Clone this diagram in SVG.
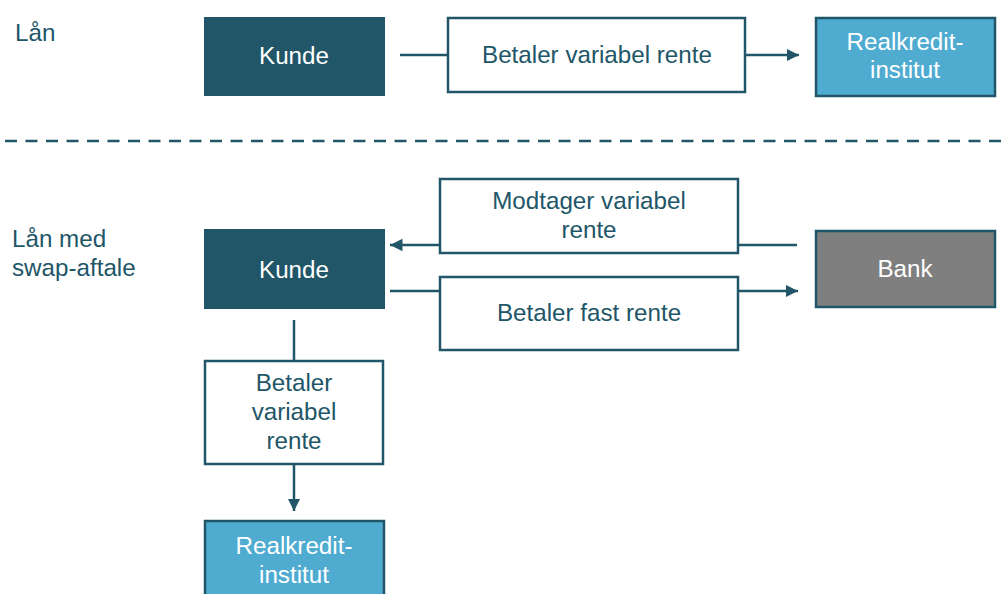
<svg xmlns="http://www.w3.org/2000/svg" width="1001" height="594" viewBox="0 0 1001 594">
<defs>
<style>
text{font-family:"Liberation Sans",Arial,sans-serif;font-size:24.2px;text-anchor:middle}
.lbl{fill:#215668;text-anchor:start}
.dark{fill:#215668;stroke:#215668;stroke-width:1}
.blue{fill:#4FABD0;stroke:#215668;stroke-width:2.5}
.gray{fill:#7F7F7F;stroke:#215668;stroke-width:2.5}
.flow{fill:#fff;stroke:#215668;stroke-width:2.5}
.wt{fill:#fff}
.tt{fill:#215668}
.conn{stroke:#215668;stroke-width:2.5;fill:none}
</style>
<marker id="ah" viewBox="0 0 10 10" refX="10" refY="5" markerWidth="5" markerHeight="5" markerUnits="strokeWidth" orient="auto">
<path d="M0,0 L10,5 L0,10 z" fill="#215668"/>
</marker>
</defs>
<rect width="1001" height="594" fill="#fff"/>
<text class="lbl" x="15" y="41">Lån</text>
<text class="lbl" x="12" y="247">Lån med</text>
<text class="lbl" x="12" y="276">swap-aftale</text>
<line x1="5" y1="141" x2="1001" y2="141" stroke="#215668" stroke-width="2.5" stroke-dasharray="12,8.5"/>
<g id="connectors">
<line class="conn" x1="400" y1="55" x2="448" y2="55"/>
<line class="conn" x1="745" y1="55" x2="799" y2="55" marker-end="url(#ah)"/>
<line class="conn" x1="440" y1="245" x2="390" y2="245" marker-end="url(#ah)"/>
<line class="conn" x1="797" y1="245" x2="738" y2="245"/>
<line class="conn" x1="390" y1="291" x2="440" y2="291"/>
<line class="conn" x1="738" y1="291" x2="798" y2="291" marker-end="url(#ah)"/>
<line class="conn" x1="294" y1="320" x2="294" y2="361"/>
<line class="conn" x1="294" y1="464" x2="294" y2="511" marker-end="url(#ah)"/>
</g>
<g id="kunde1"><rect class="dark" x="204.5" y="17.5" width="180" height="78"/><text class="wt" x="294" y="64">Kunde</text></g>
<g id="betaler-variabel-1"><rect class="flow" x="448" y="18" width="297" height="74"/><text class="tt" x="597" y="63">Betaler variabel rente</text></g>
<g id="realkredit1"><rect class="blue" x="816" y="18" width="179" height="78"/><text class="wt" x="905" y="50">Realkredit-</text><text class="wt" x="905" y="78">institut</text></g>
<g id="kunde2"><rect class="dark" x="204.5" y="229.5" width="180" height="79"/><text class="wt" x="294" y="278">Kunde</text></g>
<g id="modtager"><rect class="flow" x="440" y="179" width="298" height="74"/><text class="tt" x="589" y="209">Modtager variabel</text><text class="tt" x="589" y="238">rente</text></g>
<g id="betaler-fast"><rect class="flow" x="440" y="277" width="298" height="73"/><text class="tt" x="589" y="321">Betaler fast rente</text></g>
<g id="bank"><rect class="gray" x="816" y="231" width="179" height="76"/><text class="wt" x="905" y="277">Bank</text></g>
<g id="betaler-variabel-2"><rect class="flow" x="205" y="361" width="178" height="103"/><text class="tt" x="294" y="391">Betaler</text><text class="tt" x="294" y="420">variabel</text><text class="tt" x="294" y="449">rente</text></g>
<g id="realkredit2"><rect class="blue" x="205" y="521" width="179" height="80"/><text class="wt" x="294" y="554">Realkredit-</text><text class="wt" x="294" y="583">institut</text></g>
</svg>
